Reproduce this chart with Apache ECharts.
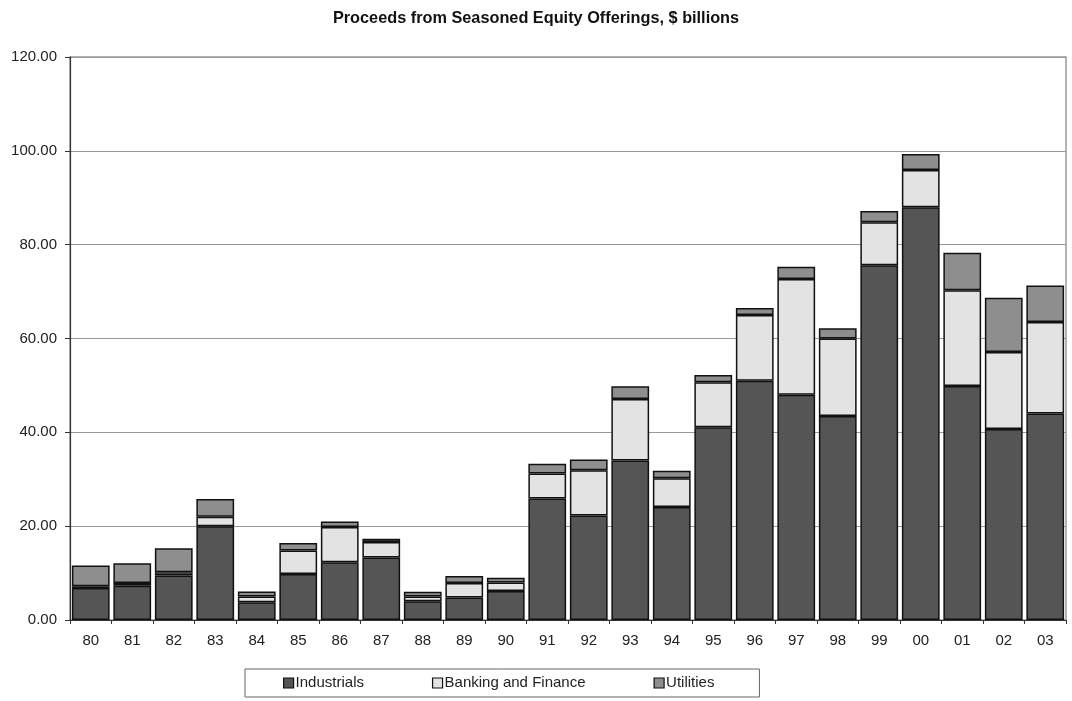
<!DOCTYPE html>
<html>
<head>
<meta charset="utf-8">
<script src="https://cdn.jsdelivr.net/npm/echarts@6/dist/echarts.min.js"></script>
<style>
html,body{margin:0;padding:0;background:#fff;}
#chart{width:1072px;height:701px;}
</style>
</head>
<body>
<div id="chart"></div>
<script>
const years = ['80','81','82','83','84','85','86','87','88','89','90','91','92','93','94','95','96','97','98','99','00','01','02','03'];
const industrials = [6.8,7.3,9.5,20.0,3.8,9.8,12.3,13.3,4.0,4.8,6.2,25.9,22.3,34.0,24.1,41.1,51.0,48.0,43.5,75.6,88.0,49.9,40.7,44.0];
const banking = [0.4,0.6,0.7,2.0,1.2,5.0,7.5,3.3,1.0,3.1,1.8,5.3,9.6,13.1,6.1,9.6,14.0,24.7,16.5,9.2,7.9,20.4,16.4,19.5];
const utilities = [4.4,4.2,5.1,3.8,1.1,1.6,1.2,0.7,1.0,1.5,1.0,2.1,2.3,2.7,1.6,1.5,1.5,2.6,2.2,2.4,3.4,8.0,11.6,7.8];
const seriesNames = ['Industrials','Banking and Finance','Utilities'];
const yTicks = [0,20,40,60,80,100,120];

const chart = echarts.init(document.getElementById('chart'), null, {renderer:'canvas'});
const FONT = 'Liberation Sans, Arial, sans-serif';
const colors = ['#555555','#e3e3e3','#8e8e8e'];
const dataSets = [industrials, banking, utilities];

chart.setOption({
  animation:false,
  backgroundColor:'#ffffff',
  title:{
    text:'Proceeds from Seasoned Equity Offerings, $ billions',
    left:'center', top:6,
    textStyle:{fontFamily:FONT,fontSize:16.3,fontWeight:'bold',color:'#111'}
  },
  legend:{
    left:245, top:669,
    padding:[6.5,45,6.5,38],
    itemGap:68,
    itemWidth:10, itemHeight:10,
    borderColor:'#666', borderWidth:1,
    icon:'rect',
    textStyle:{fontFamily:FONT,fontSize:15,color:'#222',padding:[0,0,0,-3]},
    data:seriesNames.map(n=>({name:n,itemStyle:{borderColor:'#111',borderWidth:1.2}}))
  },
  grid:{left:70,right:6,top:57,bottom:81,show:true,borderColor:'#9a9a9a',borderWidth:1.5,containLabel:false},
  xAxis:{
    type:'category',
    data:years,
    axisLine:{lineStyle:{color:'#333',width:1.2}},
    axisTick:{show:true,length:4,lineStyle:{color:'#333'}},
    axisLabel:{fontFamily:FONT,fontSize:15,color:'#222',margin:13}
  },
  yAxis:{
    type:'value',
    min:0,max:120,interval:20,
    axisLine:{show:true,lineStyle:{color:'#333',width:1.2}},
    axisTick:{show:true,length:5,lineStyle:{color:'#333'}},
    axisLabel:{fontFamily:FONT,fontSize:15,color:'#222',margin:13,formatter:v=>v.toFixed(2)},
    splitLine:{lineStyle:{color:'#999',width:1}}
  },
  series:dataSets.map((d,i)=>({
    name:seriesNames[i],
    type:'bar',
    stack:'total',
    data:d,
    barCategoryGap:'9%',
    itemStyle:{color:colors[i],borderColor:'#111',borderWidth:1.5}
  }))
});
</script>
</body>
</html>
